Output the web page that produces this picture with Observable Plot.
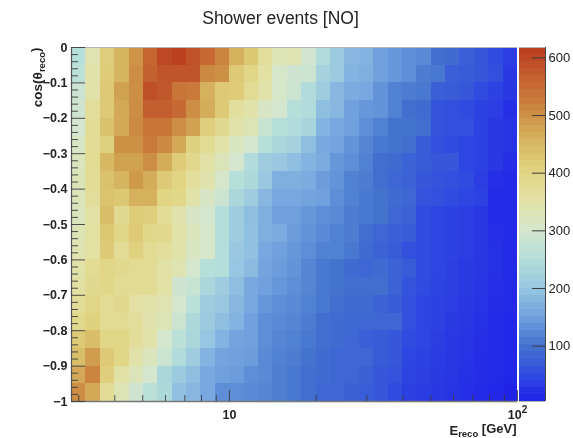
<!DOCTYPE html>
<html>
<head>
<meta charset="utf-8">
<script src="https://cdn.jsdelivr.net/npm/d3@7"></script>
<script src="https://cdn.jsdelivr.net/npm/@observablehq/plot@0.6"></script>
<style>
html,body{margin:0;padding:0;background:#fff}
#chart{position:relative;width:573px;height:438px;overflow:hidden;filter:blur(0.35px)}
#chart svg{position:absolute;left:0;top:0}
</style>
</head>
<body>
<div id="chart"></div>
<script>
// event counts per bin; first row is cos(theta) in [-0.05, 0], last is [-1, -0.95]; columns run with rising energy
const row00=[255,335,410,455,495,555,598,612,585,550,515,460,425,365,330,335,295,245,210,180,175,150,140,130,125,95,90,75,65,50,35];
const row01=[260,345,415,455,505,560,580,580,580,510,500,420,395,355,305,290,285,225,210,175,170,150,140,130,110,105,75,70,65,55,30];
const row02=[285,345,420,480,505,590,575,535,530,460,420,415,375,345,305,285,245,215,180,165,160,135,115,110,105,75,70,65,50,40,30];
const row03=[290,365,420,470,505,565,565,550,505,465,420,360,345,310,300,255,245,190,180,150,140,135,115,95,90,60,55,50,40,35,20];
const row04=[300,370,435,470,510,535,535,505,480,410,380,345,330,280,255,245,230,175,160,150,130,115,100,100,95,60,55,55,40,30,25];
const row05=[310,370,405,500,500,530,510,470,405,375,345,315,300,255,235,225,190,160,155,135,120,105,100,95,70,55,50,45,40,30,25];
const row06=[320,375,450,480,480,505,465,415,385,350,325,300,245,215,205,190,175,165,140,130,115,95,90,80,70,65,65,45,40,30,20];
const row07=[325,370,435,455,490,465,420,400,360,340,305,255,240,205,170,170,165,145,135,115,110,95,85,80,65,60,55,50,35,20,15];
const row08=[325,365,430,425,460,460,400,390,345,310,285,235,215,180,160,160,155,150,130,115,105,100,90,85,60,55,50,45,40,15,15];
const row09=[320,350,440,380,415,410,370,340,310,300,250,215,190,170,150,150,140,130,125,110,105,100,85,80,50,45,40,35,30,15,15];
const row10=[330,355,425,395,420,390,385,345,320,305,250,215,195,170,165,145,135,125,115,110,95,85,75,70,50,45,40,35,28,20,15];
const row11=[335,355,420,370,405,375,365,345,315,305,250,205,195,160,150,140,130,115,115,105,90,80,70,55,50,45,40,35,28,22,15];
const row12=[345,375,395,385,375,375,350,335,300,255,250,200,185,155,145,135,120,105,100,90,85,90,80,70,50,45,38,32,28,22,15];
const row13=[355,380,390,375,375,375,350,290,280,235,215,190,160,150,140,130,120,105,100,95,95,95,80,60,50,42,38,32,26,20,15];
const row14=[370,395,370,385,355,345,335,300,260,215,205,180,160,140,130,125,115,105,95,90,90,80,70,55,45,40,35,30,24,18,14];
const row15=[385,405,375,375,365,340,330,285,240,210,190,175,150,130,125,120,110,95,90,88,85,85,85,55,45,40,32,28,22,16,12];
const row16=[420,440,395,395,365,345,300,260,235,200,175,155,150,130,120,115,105,95,90,85,75,70,65,50,45,36,30,25,20,15,12];
const row17=[440,485,420,395,345,320,285,245,215,175,155,150,145,125,115,110,100,90,85,85,85,70,65,45,40,34,28,24,18,14,10];
const row18=[470,515,410,350,325,300,235,210,190,160,150,145,130,125,112,105,95,90,85,85,78,65,60,42,38,32,27,22,18,14,10];
const row19=[505,470,370,330,290,260,240,195,180,160,130,130,125,120,112,105,95,85,85,78,72,65,50,38,34,30,25,20,16,12,8];
const rows=[row00,row01,row02,row03,row04,row05,row06,row07,row08,row09,row10,row11,row12,row13,row14,row15,row16,row17,row18,row19];

const energyDomain=[2.83,100];
const cosDomain=[-1,0];
const majorE=[10,100];
const minorE=[3,4,5,6,7,8,9,20,30,40,50,60,70,80,90];
const majorCos=[0,-0.1,-0.2,-0.3,-0.4,-0.5,-0.6,-0.7,-0.8,-0.9,-1];
const minorCos=d3.range(0,51).map(i=>-i/50).filter(v=>Math.abs(v*10-Math.round(v*10))>1e-6);
const cosLabels=["0","−0.1","−0.2","−0.3","−0.4","−0.5","−0.6","−0.7","−0.8","−0.9","−1"];
const xTickLabels=["10","10²"];
const barTicks=[100,200,300,400,500,600];
const barDomain=[4,618];
const colorStops=[4,50,100,150,200,250,300,350,400,450,500,550,618];
const colorRange=["#2020e8","#304be0","#4473cd","#70a0de","#96c6e1","#b4deda","#d4e6cd","#e2e1a5","#e1d482","#d7b964","#cd9146","#c66932","#b93c1e"];

const nx=rows[0].length, ny=rows.length;
const edgeX=i=>energyDomain[0]*Math.pow(energyDomain[1]/energyDomain[0],i/nx);
const cells=rows.flatMap((r,j)=>r.map((v,i)=>({x1:edgeX(i),x2:edgeX(i+1),y1:-(j+1)/ny,y2:-j/ny,v})));
const colorOpt={type:"linear",domain:colorStops,range:colorRange,interpolate:"rgb",clamp:true};
const axisColor="#3c3c3c", font="'Liberation Sans',Arial,sans-serif";

const main=Plot.plot({
  width:573,height:438,marginLeft:71,marginRight:56,marginTop:47,marginBottom:37,
  style:{background:"transparent",fontFamily:font,overflow:"visible"},
  x:{type:"log",domain:energyDomain,axis:null},
  y:{domain:cosDomain,axis:null},
  color:colorOpt,
  marks:[
    Plot.rect(cells,{x1:"x1",x2:"x2",y1:"y1",y2:"y2",fill:"v",shapeRendering:"crispEdges"}),
    Plot.ruleY([0],{stroke:"#b4b4b4",strokeWidth:1}),
    Plot.ruleY([-1],{stroke:"#777",strokeWidth:1.5}),
    Plot.ruleX([energyDomain[0]],{stroke:"#555",strokeWidth:1.2}),
    Plot.tickY(majorCos,{y:d=>d,insetRight:432,stroke:axisColor,strokeWidth:0.9}),
    Plot.tickY(minorCos,{y:d=>d,insetRight:439,stroke:axisColor,strokeWidth:0.9}),
    Plot.tickX(majorE,{x:d=>d,insetTop:343,stroke:axisColor,strokeWidth:0.9}),
    Plot.tickX(minorE,{x:d=>d,insetTop:348,stroke:axisColor,strokeWidth:0.9}),
    Plot.text(majorCos,{x:()=>energyDomain[0],y:d=>d,text:(d,i)=>cosLabels[i],textAnchor:"end",dx:-4,fontSize:12.5,fontWeight:"bold",fill:"#222"}),
    Plot.text(majorE,{x:d=>d,y:()=>-1,text:(d,i)=>xTickLabels[i],dy:13,fontSize:12.5,fontWeight:"bold",fill:"#222"}),
    Plot.text(["Shower events [NO]"],{frameAnchor:"top",dx:-14,dy:-36,fontSize:17.5,fill:"#222"}),
    Plot.text(["Ereco [GeV]"],{frameAnchor:"bottom-right",dy:33,dx:-1,textAnchor:"end",fontSize:13,fontWeight:"bold",fill:"#222"}),
    Plot.text(["cos(θreco)"],{frameAnchor:"top-left",dx:-39,textAnchor:"end",rotate:-90,fontSize:13.5,fontWeight:"bold",fill:"#222"})
  ]
});

const levels=d3.range(barDomain[0],barDomain[1],12.28);
const bar=Plot.plot({
  width:573,height:438,marginLeft:519,marginRight:28,marginTop:47,marginBottom:37,
  style:{background:"transparent",fontFamily:font},
  x:{domain:[0,1],axis:null},
  y:{domain:barDomain,axis:null},
  color:colorOpt,
  marks:[
    Plot.rectY(levels,{x1:()=>0,x2:()=>1,y1:d=>d,y2:d=>Math.min(d+12.28,barDomain[1]),fill:d=>d+6,shapeRendering:"crispEdges"}),
    Plot.ruleY([barDomain[0]],{stroke:"#b4b4b4"}),
    Plot.ruleY([barDomain[1]],{stroke:"#b4b4b4"}),
    Plot.ruleX([1],{stroke:"#444",strokeWidth:1}),
    Plot.tickY(barTicks,{y:d=>d,insetLeft:13,stroke:axisColor,strokeWidth:1}),
    Plot.text(barTicks,{x:()=>1,y:d=>d,text:d=>String(d),textAnchor:"start",dx:3,fontSize:13,fill:"#222"})
  ]
});

const root=document.getElementById("chart");
root.append(main,bar);

// real subscripts and superscript on the axis texts
function sub(svg,whole,parts,size,down,up){
  d3.select(svg).selectAll("text").filter(function(){return this.textContent===whole;}).each(function(){
    const t=d3.select(this); t.text(null);
    t.append("tspan").text(parts[0]);
    t.append("tspan").attr("dy",down).attr("font-size",size).text(parts[1]);
    if(parts[2]) t.append("tspan").attr("dy",up).text(parts[2]);
  });
}
sub(main,"Ereco [GeV]",["E","reco"," [GeV]"],9.5,"0.3em","-0.36em");
sub(main,"cos(θreco)",["cos(θ","reco",")"],9.5,"0.3em","-0.36em");
sub(main,"10²",["10","2",""],10,"-0.55em","");
</script>
</body>
</html>
